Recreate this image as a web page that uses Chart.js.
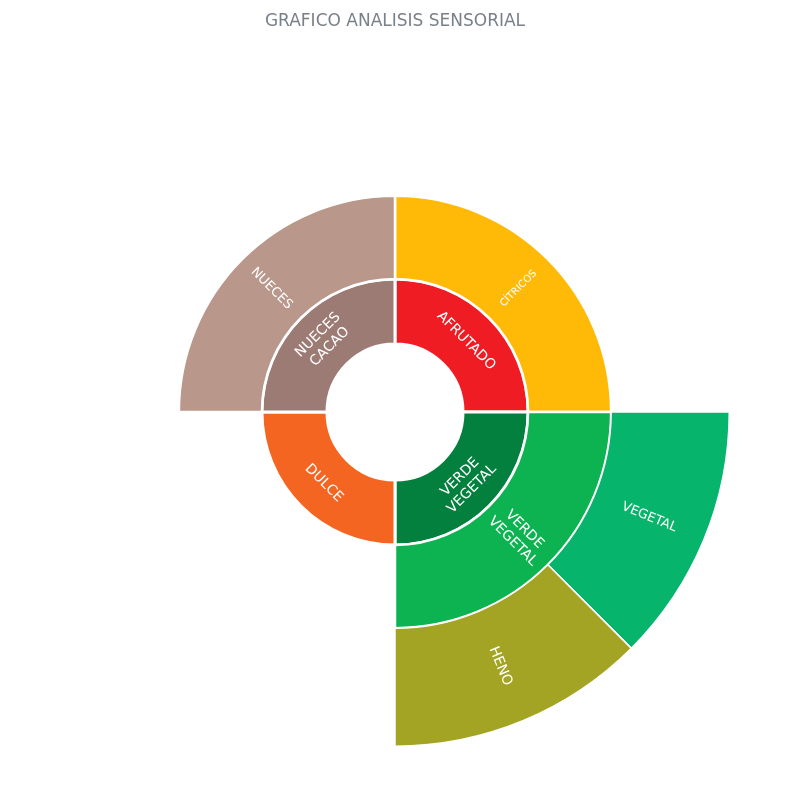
<!DOCTYPE html>
<html>
<head>
<meta charset="utf-8">
<script src="https://cdn.jsdelivr.net/npm/chart.js@4"></script>
<style>
  html, body { margin: 0; padding: 0; background: #ffffff; }
  #wrap { width: 800px; height: 800px; }
</style>
</head>
<body>
<div id="wrap"><canvas id="c" width="800" height="800"></canvas></div>
<script>
// ---- data ----
const chartTitle = 'GRAFICO ANALISIS SENSORIAL';

// inner ring (families)
const ring1Labels = [['AFRUTADO'], ['VERDE', 'VEGETAL'], ['DULCE'], ['NUECES', 'CACAO']];
const ring1Values = [1, 1, 1, 1];

// middle ring (sub-families); '' = no segment
const ring2Labels = [['CÍTRICOS'], ['VERDE', 'VEGETAL'], [''], ['NUECES']];
const ring2Values = [1, 1, 1, 1];

// outer ring (descriptors); '' = no segment
const ring3Labels = [[''], ['VEGETAL'], ['HENO'], ['']];
const ring3Values = [2, 1, 1, 4];

// ---- styles ----
const FONT = '"DejaVu Sans", Verdana, sans-serif';
const NONE = 'rgba(0,0,0,0)';
const ring1Colors = ['#EF1C24', '#04803E', '#F56522', '#9D7B75'];
const ring2Colors = ['#FFBA08', '#0CB350', NONE, '#B9978A'];
const ring3Colors = [NONE, '#07B46B', '#A4A424', NONE];
const ring1Font = [14, 14, 14, 14];
const ring2Font = [10, 14, 13, 13];
const ring3Font = [13, 13, 14, 13];

function borders(colors, w) { return colors.map(c => c === NONE ? 0 : w); }

const labelPlugin = {
  id: 'ringLabels',
  afterDatasetsDraw(chart) {
    const ctx = chart.ctx;
    chart.data.datasets.forEach((ds, di) => {
      const meta = chart.getDatasetMeta(di);
      meta.data.forEach((arc, i) => {
        const lines = ds.ringLabels[i];
        if (!lines || !lines.join('')) return;
        const p = arc.getProps(['x', 'y', 'startAngle', 'endAngle', 'innerRadius', 'outerRadius'], true);
        const mid = (p.startAngle + p.endAngle) / 2;
        const r = (p.innerRadius + p.outerRadius) / 2;
        const cx = p.x + Math.cos(mid) * r;
        const cy = p.y + Math.sin(mid) * r;
        let rot = ds.orient === 'tangential' ? mid + Math.PI / 2 : mid;
        while (rot > Math.PI / 2) rot -= Math.PI;
        while (rot <= -Math.PI / 2) rot += Math.PI;
        const fs = ds.fontSizes[i];
        ctx.save();
        ctx.translate(cx, cy);
        ctx.rotate(rot);
        ctx.fillStyle = '#ffffff';
        ctx.font = fs + 'px ' + FONT;
        ctx.textAlign = 'center';
        ctx.textBaseline = 'middle';
        const lh = fs * 1.2;
        lines.forEach((t, k) => {
          ctx.fillText(t, 0, (k - (lines.length - 1) / 2) * lh);
        });
        ctx.restore();
      });
    });
  }
};

new Chart(document.getElementById('c'), {
  type: 'doughnut',
  data: {
    labels: ring1Labels.map(l => l.join(' ')),
    datasets: [
      {
        data: ring3Values, ringLabels: ring3Labels, fontSizes: ring3Font, orient: 'radial',
        backgroundColor: ring3Colors, borderColor: '#ffffff', borderWidth: borders(ring3Colors, 1.5),
        hoverBorderWidth: 0, weight: 118
      },
      {
        data: ring2Values, ringLabels: ring2Labels, fontSizes: ring2Font, orient: 'radial',
        backgroundColor: ring2Colors, borderColor: '#ffffff', borderWidth: borders(ring2Colors, 2.5),
        hoverBorderWidth: 0, weight: 83
      },
      {
        data: ring1Values, ringLabels: ring1Labels, fontSizes: ring1Font, orient: 'tangential',
        backgroundColor: ring1Colors, borderColor: '#ffffff', borderWidth: borders(ring1Colors, 3),
        hoverBorderWidth: 0, weight: 65
      }
    ]
  },
  options: {
    responsive: false,
    animation: false,
    cutout: 68,
    events: [],
    layout: { padding: { left: 60, right: 70, top: 0, bottom: 53 } },
    plugins: {
      legend: { display: false },
      tooltip: { enabled: false },
      title: {
        display: true,
        text: chartTitle,
        color: '#78808a',
        font: { family: FONT, size: 17, weight: 'normal' },
        padding: { top: 11.5, bottom: 45.1 }
      }
    }
  },
  plugins: [labelPlugin]
});
</script>
</body>
</html>
